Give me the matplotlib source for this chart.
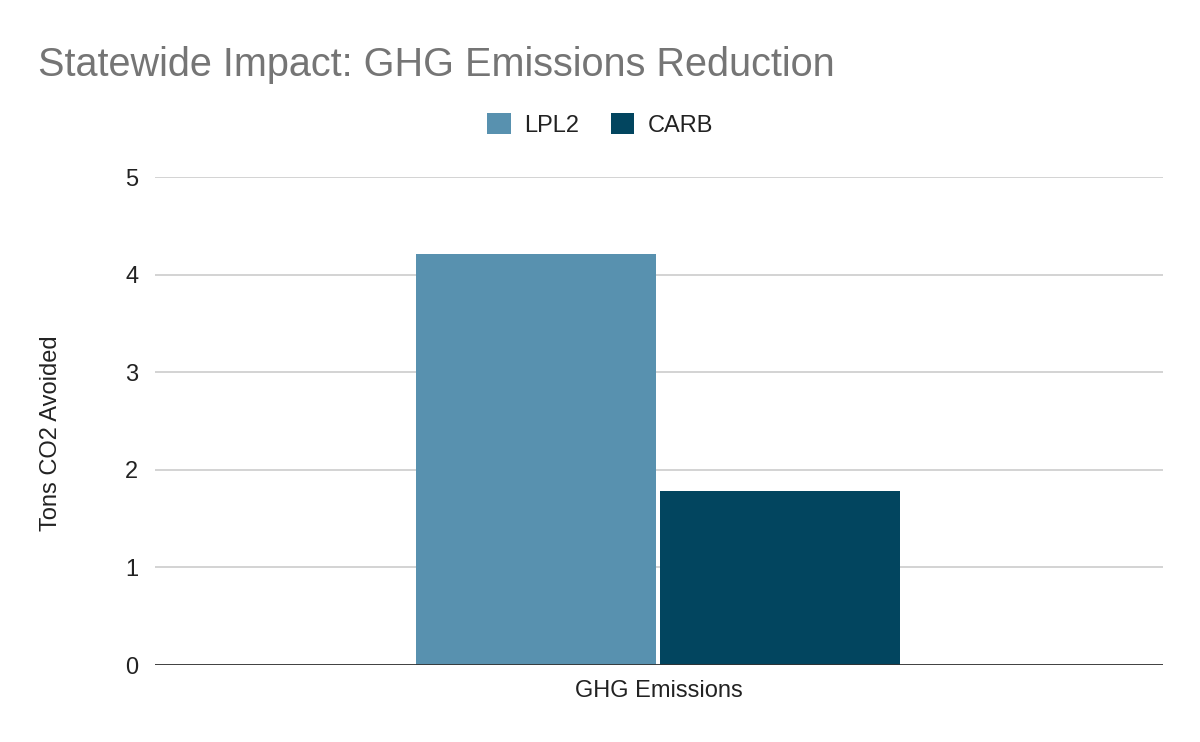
import matplotlib.pyplot as plt
from matplotlib.patches import Patch

# Values
category = 'GHG Emissions'
series = ['LPL2', 'CARB']
values = [4.21, 1.78]
colors = ['#5891af', '#02455f']
y_ticks = [0, 1, 2, 3, 4, 5]

plt.rcParams['font.family'] = ['Liberation Sans', 'DejaVu Sans']

fig = plt.figure(figsize=(12, 7.42), dpi=100)
W, H = 1200, 742
ax = fig.add_axes([155 / W, 1 - 665 / H, (1163 - 155) / W, (665 - 177) / H])

# grouped bars around the single category at x = 0
bar_w = 240 / 1008
offsets = [-123 / 1008, 121 / 1008]
for name, val, col, off in zip(series, values, colors, offsets):
    ax.bar(off, val, width=bar_w, color=col, label=name, zorder=3)

ax.set_xlim(-0.5, 0.5)
ax.set_ylim(0, 5)
ax.set_yticks(y_ticks)
ax.set_yticklabels([str(t) for t in y_ticks])
ax.set_xticks([0])
ax.set_xticklabels([category])

ax.grid(axis='y', color='#cccccc', linewidth=1.2, zorder=0)
ax.axhline(0, color='#333333', linewidth=2.0, zorder=4)
for s in ax.spines.values():
    s.set_visible(False)
ax.tick_params(axis='y', length=0, pad=12, labelsize=17, labelcolor='#222222')
ax.tick_params(axis='x', length=0, pad=11, labelsize=17, labelcolor='#222222')

fig.text(51 / W, 1 - 433 / H, 'Tons CO2 Avoided', rotation=90, ha='center',
         va='center', fontsize=17, color='#222222')

fig.text(38 / W, 1 - 76 / H, 'Statewide Impact: GHG Emissions Reduction',
         ha='left', va='baseline', fontsize=28.5, color='#757575')

handles = [Patch(facecolor=c, edgecolor='none') for c in colors]
fig.legend(handles, series, loc='center', bbox_to_anchor=(600 / W, 1 - 125 / H),
           ncol=2, frameon=False, fontsize=17, handlelength=1.0, handleheight=1.0,
           handletextpad=0.55, columnspacing=1.35, labelcolor='#222222')

fig.savefig('out.png', dpi=100)
